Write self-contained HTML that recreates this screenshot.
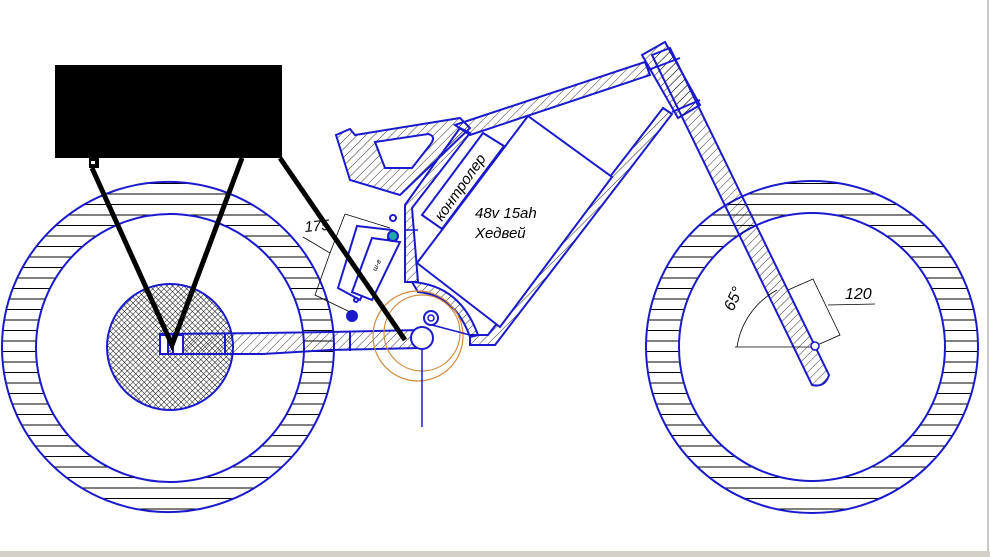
<!DOCTYPE html>
<html><head><meta charset="utf-8"><style>
html,body{margin:0;padding:0;background:#fff;width:990px;height:557px;overflow:hidden}
svg{display:block}
text{font-family:"Liberation Sans","DejaVu Sans",sans-serif;font-style:italic}
</style></head><body>
<svg width="990" height="557" viewBox="0 0 990 557" xmlns="http://www.w3.org/2000/svg">
<defs>
<pattern id="hz" width="10" height="10.5" patternUnits="userSpaceOnUse"><line x1="0" y1="5" x2="10" y2="5" stroke="#000" stroke-width="1"/></pattern>
<pattern id="dg" width="6" height="6" patternUnits="userSpaceOnUse" patternTransform="rotate(45)"><line x1="0" y1="0" x2="0" y2="6" stroke="#000" stroke-width="0.8"/></pattern>
<pattern id="xh" width="4" height="4" patternUnits="userSpaceOnUse" patternTransform="rotate(45)"><path d="M0 0V4M0 0H4" stroke="#000" stroke-width="0.9"/></pattern>
</defs>
<rect width="990" height="557" fill="#fff"/>
<rect x="0" y="551" width="990" height="6" fill="#d4d0c8"/>
<line x1="988" y1="0" x2="988" y2="551" stroke="#c8c8c8" stroke-width="2"/>

<!-- rear wheel -->
<path d="M2,347a166,165 0 1,0 332,0a166,165 0 1,0 -332,0M36,348a134,134 0 1,1 268,0a134,134 0 1,1 -268,0z" fill="url(#hz)" fill-rule="evenodd" stroke="#1a1acc" stroke-width="2"/>
<circle cx="170" cy="347" r="63" fill="url(#xh)" stroke="#1a1acc" stroke-width="2"/>
<!-- front wheel -->
<path d="M646,347a166,166 0 1,0 332,0a166,166 0 1,0 -332,0M679,347a133,134 0 1,1 266,0a133,134 0 1,1 -266,0z" fill="url(#hz)" fill-rule="evenodd" stroke="#1a1acc" stroke-width="2"/>

<!-- chainstay -->
<path d="M160,334 L263,333 L330,332 L420,330 L420,348 L330,350 L263,354 L160,354 Z" fill="url(#dg)" stroke="#1a1acc" stroke-width="2"/>
<rect x="160" y="335" width="8" height="19" fill="#fff" stroke="#1a1acc" stroke-width="2"/>
<rect x="173" y="335" width="10" height="19" fill="#fff" stroke="#1a1acc" stroke-width="2"/>
<line x1="225" y1="334" x2="225" y2="354" stroke="#1a1acc" stroke-width="2"/>
<line x1="350" y1="332" x2="350" y2="351" stroke="#1a1acc" stroke-width="2"/>

<!-- seat stay bracket -->
<path d="M336,135 L350,129 L355,135 L460,118 L470,128 L400,195 L350,180 Z" fill="url(#dg)" stroke="#1a1acc" stroke-width="2"/>
<path d="M375,142 L428,134 Q437,136 430,145 L412,168 L385,168 Z" fill="#fff" stroke="#1a1acc" stroke-width="2"/>
<!-- top tube -->
<path d="M455,125 L645,62 L650,75 L470,135 Z" fill="url(#dg)" stroke="#1a1acc" stroke-width="2"/>
<!-- seat tube / junction -->
<path d="M405,205 L460,128 L470,133 L412,208 L418,282 L405,282 Z" fill="url(#dg)" stroke="#1a1acc" stroke-width="2"/>
<!-- down tube -->
<path d="M663,108 L672,114 L495,345 L470,345 L470,335 L488,335 Z" fill="url(#dg)" stroke="#1a1acc" stroke-width="2"/>
<!-- arc guard -->
<path d="M412,282 Q460,285 478,335 L470,337 Q455,295 418,292 Z" fill="url(#dg)" stroke="#1a1acc" stroke-width="2"/>

<!-- battery -->
<path d="M528,116 L612,177 L500,327 L417,263 Z" fill="#fff" stroke="#1a1acc" stroke-width="2"/>
<path d="M483,133 L504,146 L442,229 L422,215 Z" fill="#fff" stroke="#1a1acc" stroke-width="2"/>
<text x="0" y="0" font-size="15" transform="translate(442,222) rotate(-55)">контролер</text>
<text x="475" y="218" font-size="15">48v 15ah</text>
<text x="475" y="238" font-size="15">Хедвей</text>

<!-- head tube & fork -->
<path d="M642,55 L665,42 L700,105 L678,118 Z" fill="url(#dg)" stroke="#1a1acc" stroke-width="2"/>
<path d="M652,55 L670,48 L829,375 Q825,388 812,385 Z" fill="url(#dg)" stroke="#1a1acc" stroke-width="2"/>
<line x1="648" y1="70" x2="680" y2="58" stroke="#1a1acc" stroke-width="2"/>
<line x1="672" y1="112" x2="700" y2="100" stroke="#1a1acc" stroke-width="2"/>

<!-- shock -->
<g stroke="#1a1acc" stroke-width="2" fill="none">
<path d="M357,226 L392,230 L360,300 L338,288 Z"/>
<path d="M372,238 L400,242 L372,300 L352,292 Z" fill="#fff"/>
<circle cx="393" cy="236" r="5" fill="#2aa"/>
<circle cx="352" cy="316" r="5" fill="#1a1acc"/>
<circle cx="393" cy="218" r="3"/>
<circle cx="356" cy="300" r="2"/>
</g>
<text x="365" y="262" font-size="7" font-style="normal" transform="rotate(-65 378 258)">ш-в</text>
<!-- dimension 175 -->
<g stroke="#000" stroke-width="0.8" fill="none">
<path d="M345,214 L390,228 M303,237 L330,253 L315,295 L350,312"/>
<path d="M345,214 L330,253"/>
</g>
<text x="305" y="232" font-size="15" transform="rotate(-5 305 232)">175</text>

<!-- crank -->
<circle cx="418" cy="336" r="45" fill="none" stroke="#d08a3a" stroke-width="1.2"/>
<circle cx="422" cy="333" r="38" fill="none" stroke="#d08a3a" stroke-width="1.2"/>
<circle cx="422" cy="338" r="11" fill="#fff" stroke="#1a1acc" stroke-width="2"/>
<circle cx="431" cy="318" r="7" fill="#fff" stroke="#1a1acc" stroke-width="2"/>
<circle cx="431" cy="318" r="3" fill="none" stroke="#1a1acc" stroke-width="1.5"/>
<line x1="422" y1="349" x2="422" y2="427" stroke="#1a1acc" stroke-width="1.5"/>
<line x1="432" y1="325" x2="470" y2="335" stroke="#1a1acc" stroke-width="1.5"/>
<line x1="405" y1="230" x2="418" y2="230" stroke="#1a1acc" stroke-width="1.5"/>

<!-- front dimensions -->
<g stroke="#000" stroke-width="0.8" fill="none">
<line x1="735" y1="347" x2="815" y2="347"/>
<path d="M737,347 A78,78 0 0,1 777,290"/>
<path d="M788,290 L813,279 L840,335 L815,346 M828,305 L875,304"/>
</g>
<circle cx="815" cy="346" r="4" fill="#fff" stroke="#1a1acc" stroke-width="1.5"/>
<text x="845" y="299" font-size="16">120</text>
<text x="0" y="0" font-size="16" transform="translate(733,312) rotate(-65)">65°</text>

<!-- black overlay -->
<rect x="55" y="65" width="227" height="93" fill="#000"/>
<rect x="89" y="158" width="10" height="10" fill="#000"/>
<rect x="91" y="161" width="4" height="3" fill="#fff"/>
<g stroke="#000" stroke-width="5" fill="none">
<path d="M92,168 L172,345 L242,158"/>
<path d="M280,158 L405,340"/>
</g>
</svg>
</body></html>
